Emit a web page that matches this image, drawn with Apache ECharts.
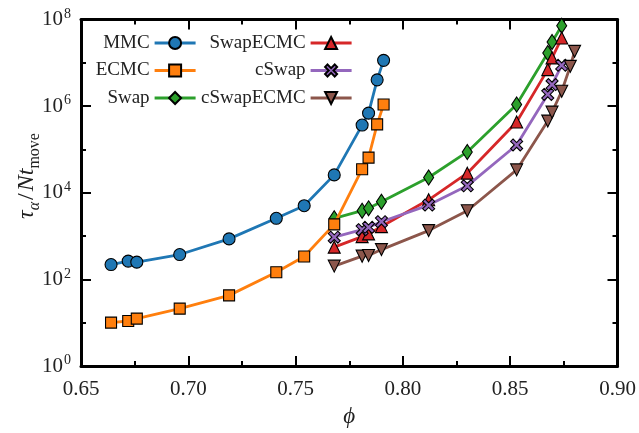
<!DOCTYPE html>
<html><head><meta charset="utf-8">
<script src="https://cdn.jsdelivr.net/npm/echarts@6/dist/echarts.min.js"></script>
<style>html,body{margin:0;padding:0;background:#fff}#c{width:639px;height:433px}</style>
</head><body><div id="c"></div>
<script>
// packing fractions
const phiA = [0.664, 0.672, 0.676, 0.696, 0.719, 0.741, 0.754, 0.768, 0.781, 0.784, 0.788, 0.791];
const phiB = [0.768, 0.781, 0.784, 0.790, 0.812, 0.830, 0.853, 0.8675, 0.8695, 0.874];
const phiC = [0.768, 0.781, 0.784, 0.790, 0.812, 0.830, 0.853, 0.8675, 0.8695, 0.874, 0.878, 0.880];
// relaxation times
const mmc = [221, 265, 251, 376, 863, 2580, 5030, 25900, 366000, 690000, 4.05e6, 1.14e7];
const ecmc = [10.1, 11, 12.5, 21.2, 42.9, 147, 338, 1870, 35000, 65000, 380000, 1.09e6];
const swap = [2580, 3860, 4380, 6210, 22600, 87700, 1.09e6, 1.69e7, 3.02e7, 7.16e7];
const swapEcmc = [556, 975, 1125, 1660, 6900, 28400, 429000, 6.98e6, 1.3e7, 3.73e7];
const cSwap = [944, 1410, 1600, 2150, 5210, 14500, 127000, 1.86e6, 3.15e6, 8.77e6];
const cSwapEcmc = [203, 345, 356, 489, 1340, 3860, 33800, 452000, 728000, 2.21e6, 8.3e6, 1.84e7];
const legendCol1 = ['MMC', 'ECMC', 'Swap'];
const legendCol2 = ['SwapECMC', 'cSwap', 'cSwapECMC'];
const xTickDigits = 2;

const FONT = 'Liberation Serif';
const TXT = '#222';
const X_SYM = 'path://M2 0 L5 3 L8 0 L10 2 L7 5 L10 8 L8 10 L5 7 L2 10 L0 8 L3 5 L0 2 Z';
const V_SYM = 'path://M0 0 L10 0 L5 9 Z';

function mk(name, xs, ys, color, symbol, size, z) {
  return {
    name, type: 'line', color, z,
    data: xs.map((x, i) => [x, ys[i]]),
    xAxisIndex: 0, yAxisIndex: 0,
    symbol, symbolSize: size, showAllSymbol: true,
    lineStyle: { color, width: 2.8 },
    itemStyle: { color, borderColor: '#000', borderWidth: 1.1, opacity: 1 },
    emphasis: { disabled: true }
  };
}

const tickLine = { color: '#000', width: 2 };
const axLine = { show: true, onZero: false, lineStyle: { color: '#000', width: 3 } };

function xAx(pos, labels) {
  return {
    type: 'value', min: 0.65, max: 0.90, interval: 0.05, position: pos,
    axisLine: axLine,
    axisTick: { show: true, inside: true, length: 10, lineStyle: tickLine },
    minorTick: { show: true, splitNumber: 2, length: 5, lineStyle: tickLine },
    splitLine: { show: false }, minorSplitLine: { show: false },
    axisLabel: labels ? { formatter: v => v.toFixed(xTickDigits), fontFamily: FONT, fontSize: 21, color: TXT, margin: 13 } : { show: false },
    name: labels ? 'ϕ' : '', nameLocation: 'middle', nameGap: 32,
    nameTextStyle: { fontFamily: FONT, fontStyle: 'italic', fontSize: 23, color: TXT }
  };
}
function yAx(pos, major, labels) {
  return {
    type: 'log', logBase: 10, min: 1, max: 1e8, interval: major ? 2 : 1, position: pos,
    axisLine: major ? axLine : { show: false },
    axisTick: { show: true, inside: true, length: major ? 10 : 5, lineStyle: tickLine },
    splitLine: { show: false },
    axisLabel: labels ? {
      formatter: v => '{b|10}{s|' + Math.round(Math.log10(v)) + '}',
      margin: 10, color: TXT,
      rich: {
        b: { fontFamily: FONT, fontSize: 21, color: TXT },
        s: { fontFamily: FONT, fontSize: 14, color: TXT, padding: [0, 0, 11, 1] }
      }
    } : { show: false }
  };
}

const chart = echarts.init(document.getElementById('c'), null, { renderer: 'canvas' });
const legBase = {
  orient: 'vertical', align: 'right', top: 33, itemWidth: 41, itemHeight: 15, itemGap: 7.5,
  padding: 0, selectedMode: false,
  lineStyle: { width: 2.8 },
  textStyle: { fontFamily: FONT, fontSize: 19, color: TXT, lineHeight: 20 }
};
chart.setOption({
  animation: false,
  backgroundColor: '#fff',
  grid: { left: 81, right: 21.5, top: 19.5, bottom: 65.3, containLabel: false },
  xAxis: [xAx('bottom', true), xAx('top', false)],
  yAxis: [yAx('left', true, true), yAx('left', false, false), yAx('right', true, false), yAx('right', false, false)],
  legend: [
    Object.assign({}, legBase, { data: legendCol1, right: 442 }),
    Object.assign({}, legBase, { data: legendCol2, right: 286 })
  ],
  graphic: [{
    type: 'text', x: 27, y: 176, rotation: Math.PI / 2,
    style: {
      text: '{i|τ}{s|α}{r|/}{i|Nt}{m|move}',
      align: 'center', verticalAlign: 'middle', fill: TXT,
      rich: {
        i: { fontFamily: FONT, fontStyle: 'italic', fontSize: 24, lineHeight: 24, verticalAlign: 'top', fill: TXT },
        r: { fontFamily: FONT, fontSize: 24, lineHeight: 24, verticalAlign: 'top', fill: TXT, padding: [0, 2, 0, 2] },
        s: { fontFamily: FONT, fontStyle: 'italic', fontSize: 16, lineHeight: 16, verticalAlign: 'top', padding: [12, 0, 0, 0], fill: TXT },
        m: { fontFamily: FONT, fontSize: 16, lineHeight: 16, verticalAlign: 'top', padding: [12, 0, 0, 0], fill: TXT }
      }
    }
  }],
  series: [
    mk('MMC', phiA, mmc, '#1f77b4', 'circle', 12, 6),
    mk('ECMC', phiA, ecmc, '#ff7f0e', 'rect', 11, 7),
    mk('Swap', phiB, swap, '#2ca02c', 'diamond', [10, 15], 2),
    mk('SwapECMC', phiB, swapEcmc, '#d62728', 'triangle', 12, 3),
    mk('cSwap', phiB, cSwap, '#9467bd', X_SYM, 12, 4),
    mk('cSwapECMC', phiC, cSwapEcmc, '#8c564b', V_SYM, 12, 5)
  ]
});
</script>
</body></html>
